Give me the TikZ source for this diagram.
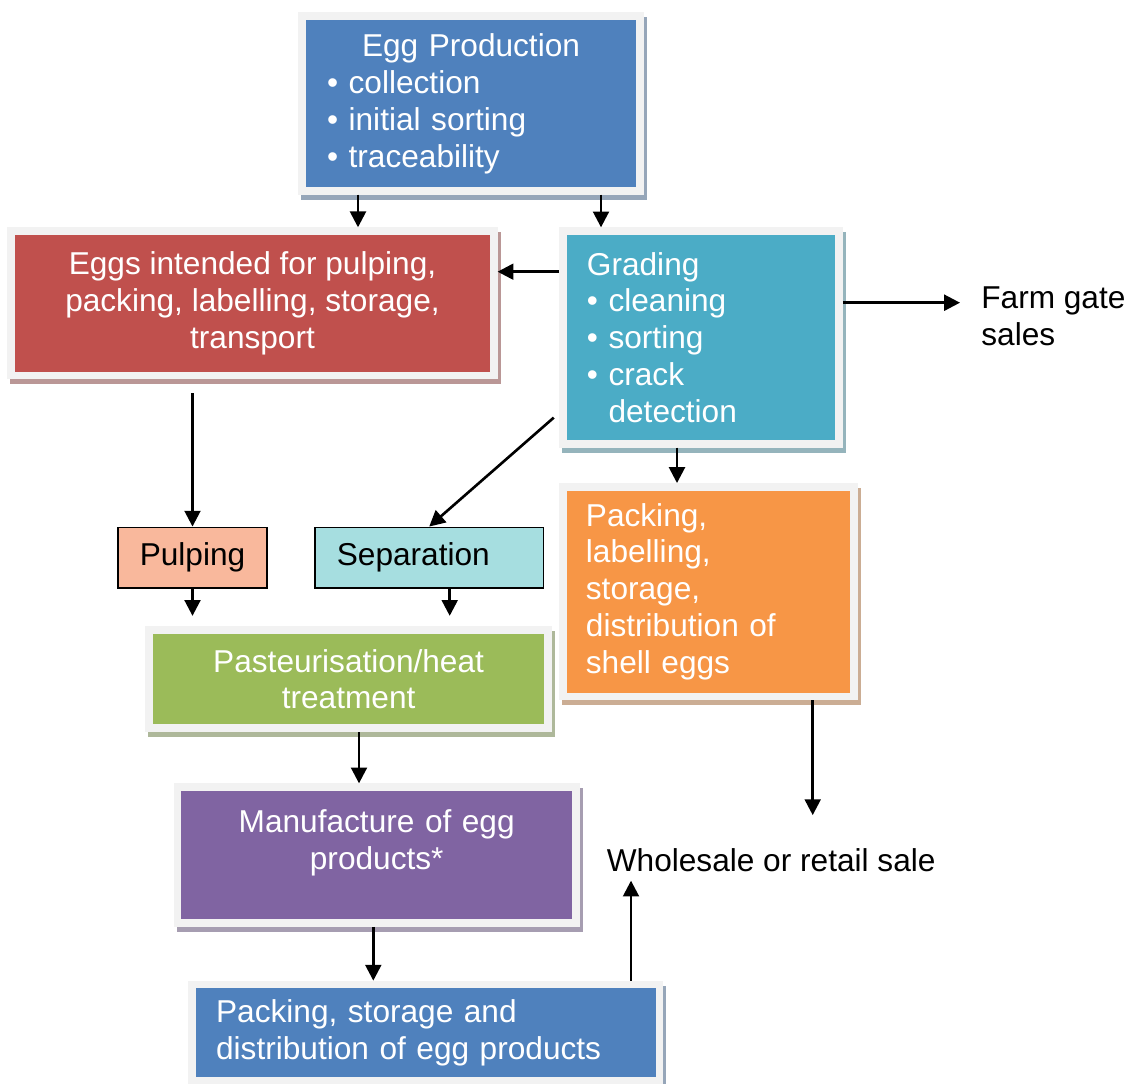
\documentclass[tikz,border=0pt]{standalone}
\usepackage{fontspec}
\setmainfont{Liberation Sans}
\usetikzlibrary{arrows.meta}
\definecolor{prodblue}{HTML}{4F81BD}
\definecolor{intentred}{HTML}{C0504D}
\definecolor{gradeteal}{HTML}{4BACC6}
\definecolor{shellorange}{HTML}{F79646}
\definecolor{heatgreen}{HTML}{9BBB59}
\definecolor{mfgpurple}{HTML}{8064A2}
\definecolor{pulpsalmon}{HTML}{F9B89C}
\definecolor{sepaqua}{HTML}{A6DEE0}
\definecolor{framegray}{HTML}{F2F2F2}
\newcommand{\boxfont}{\fontsize{18}{21}\selectfont}
\tikzset{
  card/.style={fill=#1, draw=framegray, line width=4.4pt, inner sep=0pt, text=white, font=\boxfont,
    preaction={fill=#1!45!gray!70!white, draw=#1!45!gray!70!white, line width=4.4pt,
      transform canvas={shift={(1.7pt,-2.8pt)}}}},
  plainbox/.style={fill=#1, draw=black, line width=0.9pt, inner sep=0pt, font=\boxfont},
  link/.style={-{Triangle[width=9pt,length=9pt]}, line width=1.5pt},
}
\begin{document}
\begin{tikzpicture}[x=0.02cm, y=-0.02cm]
        \useasboundingbox (0,0) rectangle (1128,1084);
        \node[card=prodblue, minimum width=6.752cm, minimum height=3.492cm, text width=5.76cm, inner xsep=0.496cm, align=left] (prod) at (471,103.5)
            {{\centering Egg Production\par}\textbullet\ collection\\\textbullet\ initial sorting\\\textbullet\ traceability};
        \node[card=intentred, minimum width=9.652cm, minimum height=2.886cm, align=center] (intent) at (252.5,303.3)
            {Eggs intended for pulping,\\packing, labelling, storage,\\transport};
        \node[card=gradeteal, minimum width=5.52cm, minimum height=4.252cm, text width=4.56cm, inner xsep=0.48cm, align=left] (grading) at (700.9,337.5)
            {Grading\\\textbullet\ cleaning\\\textbullet\ sorting\\\textbullet\ crack\\\phantom{\textbullet\ }detection};
        \node[card=shellorange, minimum width=5.82cm, minimum height=4.192cm, text width=4.9cm, inner xsep=0.46cm, align=left] (shell) at (708.4,591.7)
            {Packing,\\labelling,\\storage,\\distribution of\\shell eggs};
        \node[plainbox=pulpsalmon, minimum width=2.984cm, minimum height=1.214cm] (pulping) at (192.5,557.7) {Pulping};
        \node[plainbox=sepaqua, minimum width=4.568cm, minimum height=1.214cm, text width=3.696cm, inner xsep=0.436cm, align=left] (separation) at (429.2,557.7) {Separation};
        \node[card=heatgreen, minimum width=7.976cm, minimum height=1.958cm, align=center] (pasteur) at (348.6,679.2)
            {Pasteurisation/heat\\treatment};
        \node[card=mfgpurple, minimum width=7.966cm, minimum height=2.716cm, text width=7.5cm, inner xsep=0.233cm, text depth=1.344cm, align=center] (mfg) at (376.7,855.1)
            {Manufacture of egg\\products*};
        \node[card=prodblue, minimum width=9.346cm, minimum height=1.932cm, text width=8.394cm, inner xsep=0.476cm, align=left] (eggpack) at (425.9,1032.8)
            {Packing, storage and\\distribution of egg products};
        \node[font=\boxfont, anchor=north west, inner xsep=0.42cm, inner ysep=0pt, align=left] (farm) at (960,286.7) {Farm gate\\sales};
        \node[font=\boxfont, anchor=base west, inner xsep=0pt, inner ysep=0.17cm] (whole) at (606.5,871.5) {Wholesale or retail sale};
        \draw[link] (358,0 |- prod.south) -- (358,0 |- intent.north);
        \draw[link] (601,0 |- prod.south) -- (601,0 |- grading.north);
        \draw[link] (grading.west |- 0,271.7) -- (intent.east |- 0,271.7);
        \draw[link] (grading.east |- 0,302.7) -- (farm.west |- 0,302.7);
        \draw[link, shorten <=4pt] (grading.west |- 0,413) -- (separation.north);
        \draw[link] (677,0 |- grading.south) -- (677,0 |- shell.north);
        \draw[link, shorten <=8pt] (intent.south -| pulping.north) -- (pulping.north);
        \draw[link, shorten >=6pt] (pulping.south) -- (pulping.south |- pasteur.north);
        \draw[link, shorten >=6pt] (449.7,0 |- separation.south) -- (449.7,0 |- pasteur.north);
        \draw[link] (359,0 |- pasteur.south) -- (359,0 |- mfg.north);
        \draw[link] (373.3,0 |- mfg.south) -- (373.3,0 |- eggpack.north);
        \draw[link, shorten >=14pt] (812.7,0 |- shell.south) -- (812.7,0 |- whole.north);
        \draw[link] (631,0 |- eggpack.north) -- (631,0 |- whole.south);
\end{tikzpicture}
\end{document}
